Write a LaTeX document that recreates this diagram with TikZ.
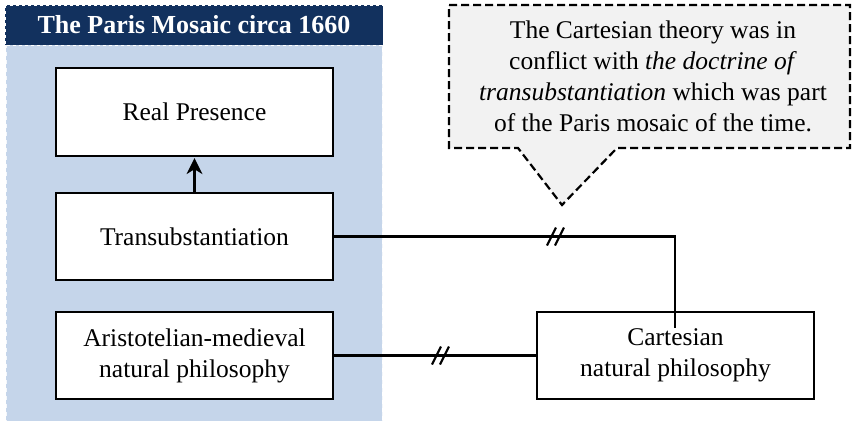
\documentclass[tikz,border=0pt]{standalone}
\usepackage{fontspec}
\setmainfont{Liberation Serif}
\usetikzlibrary{calc}
\definecolor{navy}{HTML}{12315E}
\definecolor{panelblue}{HTML}{C5D5EA}
\definecolor{notegray}{HTML}{F2F2F2}
\tikzset{
  box/.style={draw=black, fill=white, line width=2.4pt, minimum width=277pt,
    minimum height=87pt, align=center, inner sep=2pt,
    font=\fontsize{25.5}{31}\selectfont},
  link/.style={draw=black, line width=2.4pt},
  hashmark/.style={draw=black, line width=2.2pt},
}
% two slanted strokes across a connector
\newcommand{\breakmark}[1]{%
  \draw[hashmark] ($(#1)+(-10,9)$) -- ($(#1)+(-1,-9)$);
  \draw[hashmark] ($(#1)+(-2,9)$) -- ($(#1)+(7,-9)$);}
\begin{document}
\begin{tikzpicture}[x=1pt,y=-1pt]
\useasboundingbox (0,0) rectangle (852,421);

% group panel and its title bar
\fill[panelblue] (6,44) rectangle (382,421);
\draw[white!80!panelblue, line width=1pt, dash pattern=on 4pt off 4pt] (6,44) -- (6,421);
\draw[white!80!panelblue, line width=1pt, dash pattern=on 4pt off 4pt] (382,44) -- (382,421);
\fill[navy] (5,5) rectangle (383,45);
\draw[white, line width=1pt, dash pattern=on 3pt off 3pt] (5,5) rectangle (383,45);
\node[text=white, font=\fontsize{26}{30}\selectfont\bfseries] (title) at (194,25) {The Paris Mosaic circa 1660};

% boxes
\node[box, minimum height=88pt] (real) at (194.5,112) {Real Presence};
\node[box] (trans) at (194.5,236.5) {Transubstantiation};
\node[box] (arist) at (194.5,355.5) {Aristotelian-medieval\\natural philosophy};
\node[box] (cart) at (675.5,355.5) {Cartesian\\natural philosophy};

% connectors
\draw[link] (trans.north) -- ($(real.south)+(0,8)$);
\coordinate (tip) at ($(real.south)+(0,1)$);
\fill[black] (tip) -- ($(tip)+(-8,16)$) -- ($(tip)+(0,11)$) -- ($(tip)+(8,16)$) -- cycle;
\coordinate (cend) at (675,328);
\draw[link] (trans.east) -| (cend);
\draw[link] (arist.east) -- (cart.west);
\coordinate (hashA) at (557,236.5);
\coordinate (hashB) at (442,355.5);
\breakmark{hashA}
\breakmark{hashB}

% note
\draw[fill=notegray, line width=2.2pt, dash pattern=on 8pt off 4pt]
  (449,5) -- (850,5) -- (850,148) -- (617,148) -- (562,205) -- (518,148) -- (449,148) -- cycle;
\node[align=center, font=\fontsize{25.5}{31}\selectfont] (note) at (653,76)
  {The Cartesian theory was in\\conflict with \textit{the doctrine of}\\\textit{transubstantiation} which was part\\of the Paris mosaic of the time.};
\end{tikzpicture}
\end{document}
